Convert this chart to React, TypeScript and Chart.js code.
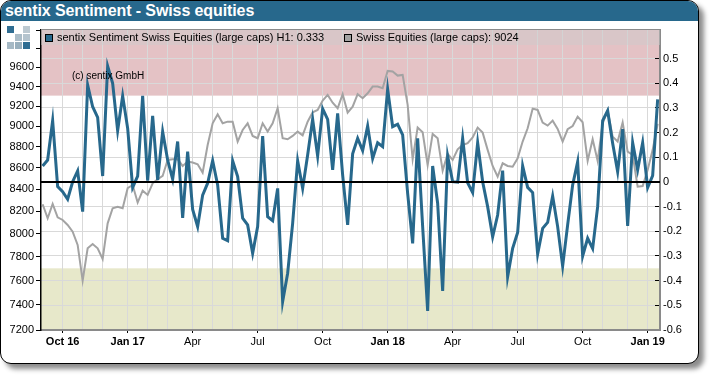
import React, { useEffect, useRef } from "react";
import { Chart, registerables } from "chart.js";

Chart.register(...registerables);

const TITLE = "sentix Sentiment - Swiss equities";
const SENTIMENT_LABEL = "sentix Sentiment Swiss Equities (large caps) H1: 0.333";
const INDEX_LABEL = "Swiss Equities (large caps): 9024";
const COPYRIGHT = "(c) sentix GmbH";

const weekIndex = Array.from({ length: 124 }, (_, i) => i);

const sentiment = [
  0.065, 0.089, 0.249, -0.019, -0.039, -0.07, 0.001, 0.045, -0.12, 0.393,
  0.305, 0.262, 0.024, 0.47, 0.4, 0.208, 0.349, 0.218, -0.022, 0.024,
  0.349, 0.005, 0.268, 0.008, 0.204, 0.089, 0.011, 0.164, -0.146, 0.123,
  -0.111, -0.181, -0.053, -0.005, 0.086, -0.012, -0.228, -0.238, 0.086, 0.022,
  -0.147, -0.174, -0.289, -0.181, 0.186, -0.141, -0.157, -0.026, -0.485, -0.37,
  -0.168, 0.086, -0.026, 0.109, 0.254, 0.105, 0.297, 0.254, 0.049, 0.278,
  0.028, -0.174, 0.114, 0.177, 0.127, 0.227, 0.095, 0.159, 0.143, 0.376,
  0.224, 0.234, 0.191, -0.046, -0.249, 0.177, -0.181, -0.523, 0.065, -0.086,
  -0.442, 0.105, 0.001, -0.001, 0.177, -0.003, -0.043, 0.159, 0.001, -0.1,
  -0.222, -0.134, 0.046, -0.384, -0.269, -0.205, 0.065, -0.022, -0.043, -0.292,
  -0.188, -0.164, -0.057, -0.181, -0.341, -0.174, -0.012, 0.082, -0.3, -0.228,
  -0.27, -0.1, 0.249, 0.289, 0.157, 0.042, 0.214, -0.178, 0.159, 0.049,
  0.159, -0.023, 0.026, 0.335,
];

const swissIndex = [
  8263, 8137, 8266, 8145, 8122, 8078, 8019, 7903, 7600, 7874,
  7911, 7874, 7782, 8092, 8227, 8241, 8227, 8409, 8439, 8278,
  8387, 8348, 8455, 8492, 8523, 8674, 8680, 8680, 8617, 8658,
  8649, 8633, 8554, 8817, 9029, 9118, 9029, 9045, 9045, 8850,
  8963, 9029, 8905, 8882, 9029, 8947, 9029, 9179, 8882, 8872,
  8905, 8947, 8911, 9045, 9138, 9162, 9256, 9314, 9235, 9179,
  9321, 9135, 9195, 9321, 9280, 9330, 9399, 9399, 9382, 9562,
  9555, 9513, 9520, 9212, 8680, 8986, 8940, 8626, 8924, 8882,
  8573, 8731, 8674, 8775, 8817, 8834, 8891, 8986, 8937, 8770,
  8617, 8516, 8642, 8617, 8610, 8690, 8850, 8980, 9175, 9162,
  9036, 9006, 9055, 8973, 8850, 8970, 9002, 9095, 9039, 8664,
  8872, 8664, 9029, 9155, 8898, 8850, 9036, 8753, 8721, 8424,
  8430, 8579, 8770, 9024,
];

const monthStarts = [4, 8, 12, 17, 21, 25, 30, 34, 38, 43, 47, 51, 56, 60, 64, 69, 73, 77, 82, 86, 90, 95, 99, 104, 108, 112, 117, 121];
const monthLabels: Record<number, string> = {
  4: "Oct 16", 17: "Jan 17", 30: "Apr", 43: "Jul", 56: "Oct", 69: "Jan 18", 82: "Apr", 95: "Jul", 108: "Oct", 121: "Jan 19",
};
const boldLabels = ["Oct 16", "Jan 17", "Jan 18", "Jan 19"];

const leftTicks = [7200, 7400, 7600, 7800, 8000, 8200, 8400, 8600, 8800, 9000, 9200, 9400, 9600, 9800, 10000];
const leftHidden = [9800, 10000];
const rightTicks = [-0.6, -0.5, -0.4, -0.3, -0.2, -0.1, 0, 0.1, 0.2, 0.3, 0.4, 0.5];

const OVERBOUGHT = 0.35;
const OVERSOLD = -0.35;
const FONT = '"Liberation Sans", Arial, sans-serif';
const BLUE = "#27688C";
const GREY = "#A3A3A3";

const overlay = {
  id: "overlay",
  beforeDraw(chart: any) {
    const { ctx, chartArea: a, scales } = chart;
    const r = scales.yR;
    ctx.save();
    ctx.fillStyle = "#E4C2C5";
    ctx.fillRect(a.left, a.top, a.width, r.getPixelForValue(OVERBOUGHT) - a.top);
    ctx.fillStyle = "#E7E8CA";
    const y = r.getPixelForValue(OVERSOLD);
    ctx.fillRect(a.left, y, a.width, a.bottom - y);
    ctx.restore();
  },
  afterDatasetsDraw(chart: any) {
    const { ctx, chartArea: a, scales } = chart;
    const zero = Math.round(scales.yR.getPixelForValue(0));
    ctx.save();
    ctx.fillStyle = "#000";
    ctx.fillRect(a.left, zero - 1, a.width, 2);

    // legend strip
    ctx.fillStyle = "rgba(205,205,205,0.45)";
    ctx.fillRect(a.left, a.top, a.width, 15);
    ctx.fillStyle = "#8A8A8A";
    ctx.fillRect(a.left, a.top - 1, a.width + 1, 1);
    ctx.font = `11px ${FONT}`;
    ctx.textBaseline = "middle";
    ctx.textAlign = "left";
    const swatch = (x: number, c: string, label: string) => {
      ctx.fillStyle = c;
      ctx.fillRect(x, 34, 8, 8);
      ctx.strokeStyle = "#000";
      ctx.lineWidth = 1;
      ctx.strokeRect(x + 0.5, 34.5, 7, 7);
      ctx.fillStyle = "#000";
      ctx.fillText(label, x + 12, 38);
    };
    swatch(45, BLUE, SENTIMENT_LABEL);
    swatch(344, GREY, INDEX_LABEL);

    ctx.font = `10px ${FONT}`;
    ctx.fillStyle = "#000";
    ctx.fillText(COPYRIGHT, 72, 76);
    ctx.restore();
  },
};

export default function App() {
  const ref = useRef<HTMLCanvasElement>(null);
  useEffect(() => {
    document.body.style.margin = "0";
    document.body.style.background = "#fff";
    const chart = new Chart(ref.current!, {
      type: "line",
      data: {
        datasets: [
          {
            label: SENTIMENT_LABEL,
            data: weekIndex.map((x) => ({ x, y: sentiment[x] })),
            yAxisID: "yR",
            borderColor: BLUE,
            borderWidth: 3,
            pointRadius: 0,
            tension: 0,
            order: 1,
          },
          {
            label: INDEX_LABEL,
            data: weekIndex.map((x) => ({ x, y: swissIndex[x] })),
            yAxisID: "yL",
            borderColor: GREY,
            borderWidth: 2,
            pointRadius: 0,
            tension: 0,
            order: 2,
          },
        ],
      },
      options: {
        animation: false,
        responsive: false,
        layout: { padding: { left: 0, right: 0, top: 30, bottom: 0 } },
        plugins: { legend: { display: false }, title: { display: false }, tooltip: { enabled: false } },
        scales: {
          x: {
            type: "linear",
            min: -0.33,
            max: 123.47,
            afterBuildTicks(s: any) {
              s.ticks = monthStarts.map((value) => ({ value }));
            },
            afterFit(s: any) {
              s.height = 46;
            },
            border: { color: "#8A8A8A", width: 2 },
            grid: {
              color: "#D9D9D9",
              lineWidth: 1,
              tickLength: 3,
              tickColor: (c: any) => (monthLabels[c.tick?.value] ? "#000" : "rgba(0,0,0,0)"),
            },
            ticks: {
              autoSkip: false,
              maxRotation: 0,
              padding: 2,
              color: "#000",
              font: (c: any) => ({
                family: FONT,
                size: 11,
                weight: boldLabels.includes(monthLabels[c.tick?.value]) ? "bold" : "normal",
              }),
              callback: (v: any) => monthLabels[v] ?? "",
            },
          },
          yL: {
            type: "logarithmic",
            position: "left",
            min: 7200,
            max: 10000,
            afterBuildTicks(s: any) {
              s.ticks = leftTicks.map((value) => ({ value }));
            },
            afterFit(s: any) {
              s.width = 41;
            },
            border: { color: "#000", width: 1.5 },
            grid: { drawOnChartArea: false, tickLength: 5, tickColor: "#000" },
            ticks: {
              autoSkip: false,
              padding: 2,
              color: "#000",
              font: { family: FONT, size: 11 },
              callback: (v: any) => (leftHidden.includes(v) ? "" : String(v)),
            },
          },
          yR: {
            type: "linear",
            position: "right",
            min: -0.6,
            max: 0.616,
            afterBuildTicks(s: any) {
              s.ticks = rightTicks.map((value) => ({ value }));
            },
            afterFit(s: any) {
              s.width = 50;
            },
            border: { color: "#8A8A8A", width: 2 },
            grid: { color: "#D9D9D9", lineWidth: 1, tickLength: -5, tickColor: "#000" },
            ticks: {
              autoSkip: false,
              padding: 8,
              color: "#000",
              font: { family: FONT, size: 11 },
              callback: (v: any) => String(Math.round(v * 10) / 10),
            },
          },
        },
      } as any,
      plugins: [overlay],
    });
    return () => chart.destroy();
  }, []);

  const squares = [
    [0, 0, "#2F6D92"], [16, 0, "#BCC9D1"],
    [8, 8, "#ABBDC8"], [16, 8, "#B4C4CE"],
    [0, 16, "#A6B9C5"], [8, 16, "#98AFBD"], [16, 16, "#2F6D92"],
  ] as [number, number, string][];

  return (
    <div style={{ position: "relative", width: 710, height: 376, overflow: "hidden", background: "#fff", fontFamily: FONT }}>
      <div
        style={{
          position: "absolute", left: 0, top: 0, width: 697, height: 362,
          border: "1.5px solid #000", borderRadius: 11, background: "#fff",
          boxShadow: "5px 5px 5px rgba(0,0,0,0.45)", overflow: "hidden",
        }}
      >
        <div
          style={{
            height: 20, background: "#27688C", color: "#fff", fontWeight: "bold",
            fontSize: 16, lineHeight: "20px", paddingLeft: 4, whiteSpace: "nowrap", letterSpacing: "-0.1px",
          }}
        >
          {TITLE}
        </div>
      </div>
      <canvas ref={ref} width={710} height={376} style={{ position: "absolute", left: 0, top: 0, display: "block" }} />
      {squares.map(([x, y, c], i) => (
        <div key={i} style={{ position: "absolute", left: 7 + x, top: 26 + y, width: 7, height: 7, background: c }} />
      ))}
    </div>
  );
}
